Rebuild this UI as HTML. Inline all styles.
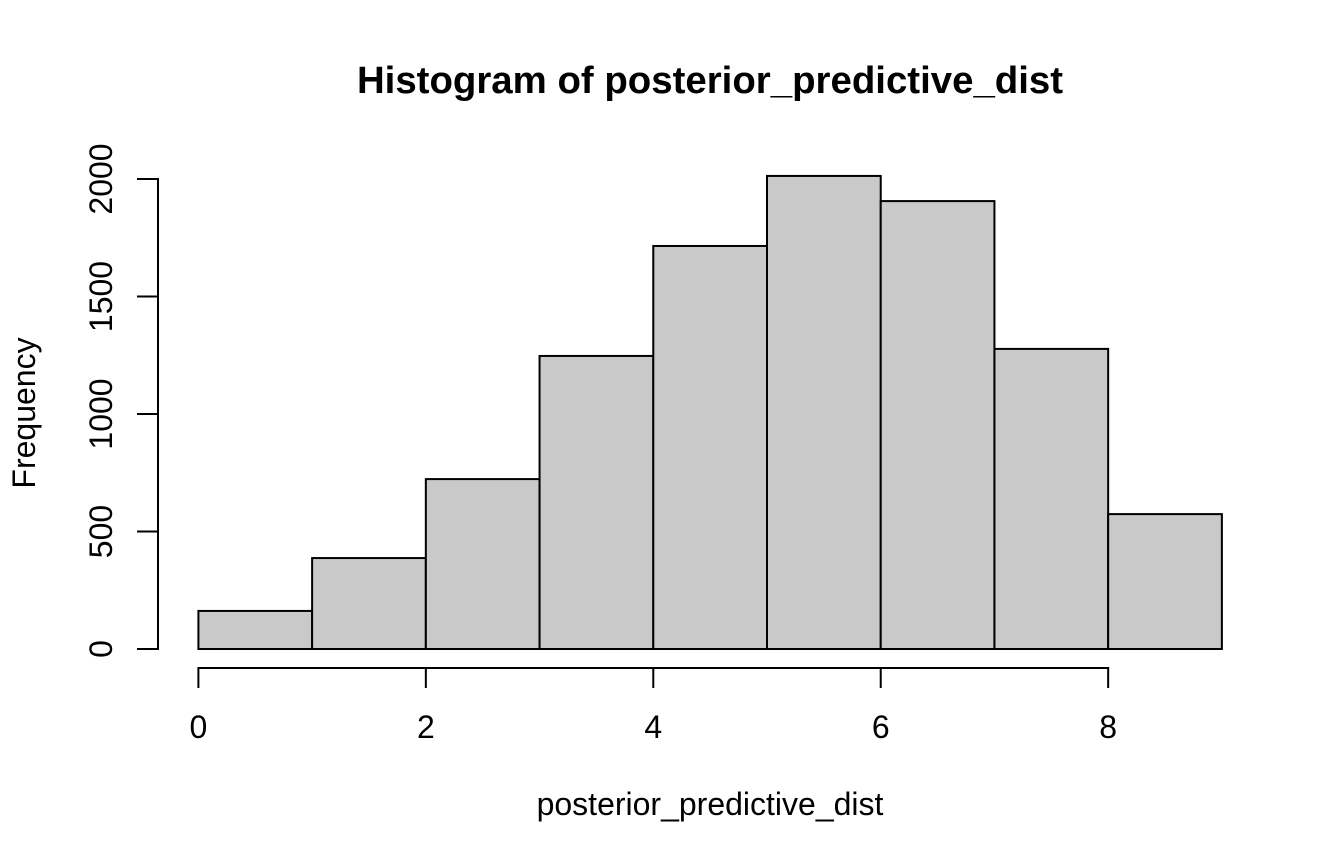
<!DOCTYPE html>
<html>
<head>
<meta charset="utf-8">
<title>Histogram of posterior_predictive_dist</title>
<style>
html,body{margin:0;padding:0;background:#fff;width:1344px;height:864px;overflow:hidden}
svg{display:block}
text{font-family:"Liberation Sans",Arial,sans-serif;fill:#000}
</style>
</head>
<body>
<svg id="chart" xmlns="http://www.w3.org/2000/svg" width="1344" height="864" viewBox="0 0 1344 864">
<rect x="0" y="0" width="1344" height="864" fill="#fff"/>
<text x="710" y="93" text-anchor="middle" font-size="38.4" font-weight="bold">Histogram of posterior_predictive_dist</text>
<text x="710" y="815" text-anchor="middle" font-size="32">posterior_predictive_dist</text>
<text x="35" y="413" text-anchor="middle" font-size="32" transform="rotate(-90 35 413)">Frequency</text>
<g id="bars"></g>
<g id="x-axis"></g>
<g id="y-axis"></g>
</svg>
<script>
const binEdges = [0, 1, 2, 3, 4, 5, 6, 7, 8, 9];
const frequencies = [162, 387, 723, 1247, 1715, 2013, 1906, 1277, 574];
const xTicks = [0, 2, 4, 6, 8];
const yTicks = [0, 500, 1000, 1500, 2000];

const NS = 'http://www.w3.org/2000/svg';
const xScale = v => 198.4 + v * 113.72;
const yScale = v => 649 - v * 0.235;

function svgEl(tag, attrs, parent) {
  const el = document.createElementNS(NS, tag);
  for (const k in attrs) el.setAttribute(k, attrs[k]);
  parent.appendChild(el);
  return el;
}

const barsGroup = document.getElementById('bars');
frequencies.forEach((f, i) => {
  const x0 = xScale(binEdges[i]);
  const x1 = xScale(binEdges[i + 1]);
  const y = yScale(f);
  const bar = svgEl('rect', {
    x: x0, y: y, width: x1 - x0, height: yScale(0) - y,
    fill: '#c9c9c9', stroke: '#000', 'stroke-width': 2
  }, barsGroup);
  
  
});

const lineStyle = { stroke: '#000', 'stroke-width': 2, 'stroke-linecap': 'butt', fill: 'none' };
const xAxisGroup = document.getElementById('x-axis');
const xAxisY = 668;
const xLine = svgEl('line', Object.assign({
  x1: xScale(xTicks[0]) - 1, x2: xScale(xTicks[xTicks.length - 1]) + 1, y1: xAxisY, y2: xAxisY
}, lineStyle), xAxisGroup);


xTicks.forEach(t => {
  const x = xScale(t);
  const tick = svgEl('line', Object.assign({ x1: x, x2: x, y1: xAxisY, y2: 688 }, lineStyle), xAxisGroup);
  
  
  const label = svgEl('text', { x: x, y: 738, 'text-anchor': 'middle', 'font-size': 32 }, xAxisGroup);
  
  
  label.textContent = t;
});

const yAxisGroup = document.getElementById('y-axis');
const yAxisX = 158;
const yLine = svgEl('line', Object.assign({
  x1: yAxisX, x2: yAxisX, y1: yScale(yTicks[0]) + 1, y2: yScale(yTicks[yTicks.length - 1]) - 1
}, lineStyle), yAxisGroup);


yTicks.forEach(t => {
  const y = yScale(t);
  const tick = svgEl('line', Object.assign({ x1: 137, x2: yAxisX, y1: y, y2: y }, lineStyle), yAxisGroup);
  
  
  const label = svgEl('text', {
    x: 112, y: y, 'text-anchor': 'middle', 'font-size': 32,
    transform: 'rotate(-90 112 ' + y + ')'
  }, yAxisGroup);
  
  
  label.textContent = t;
});
</script>
</body>
</html>
